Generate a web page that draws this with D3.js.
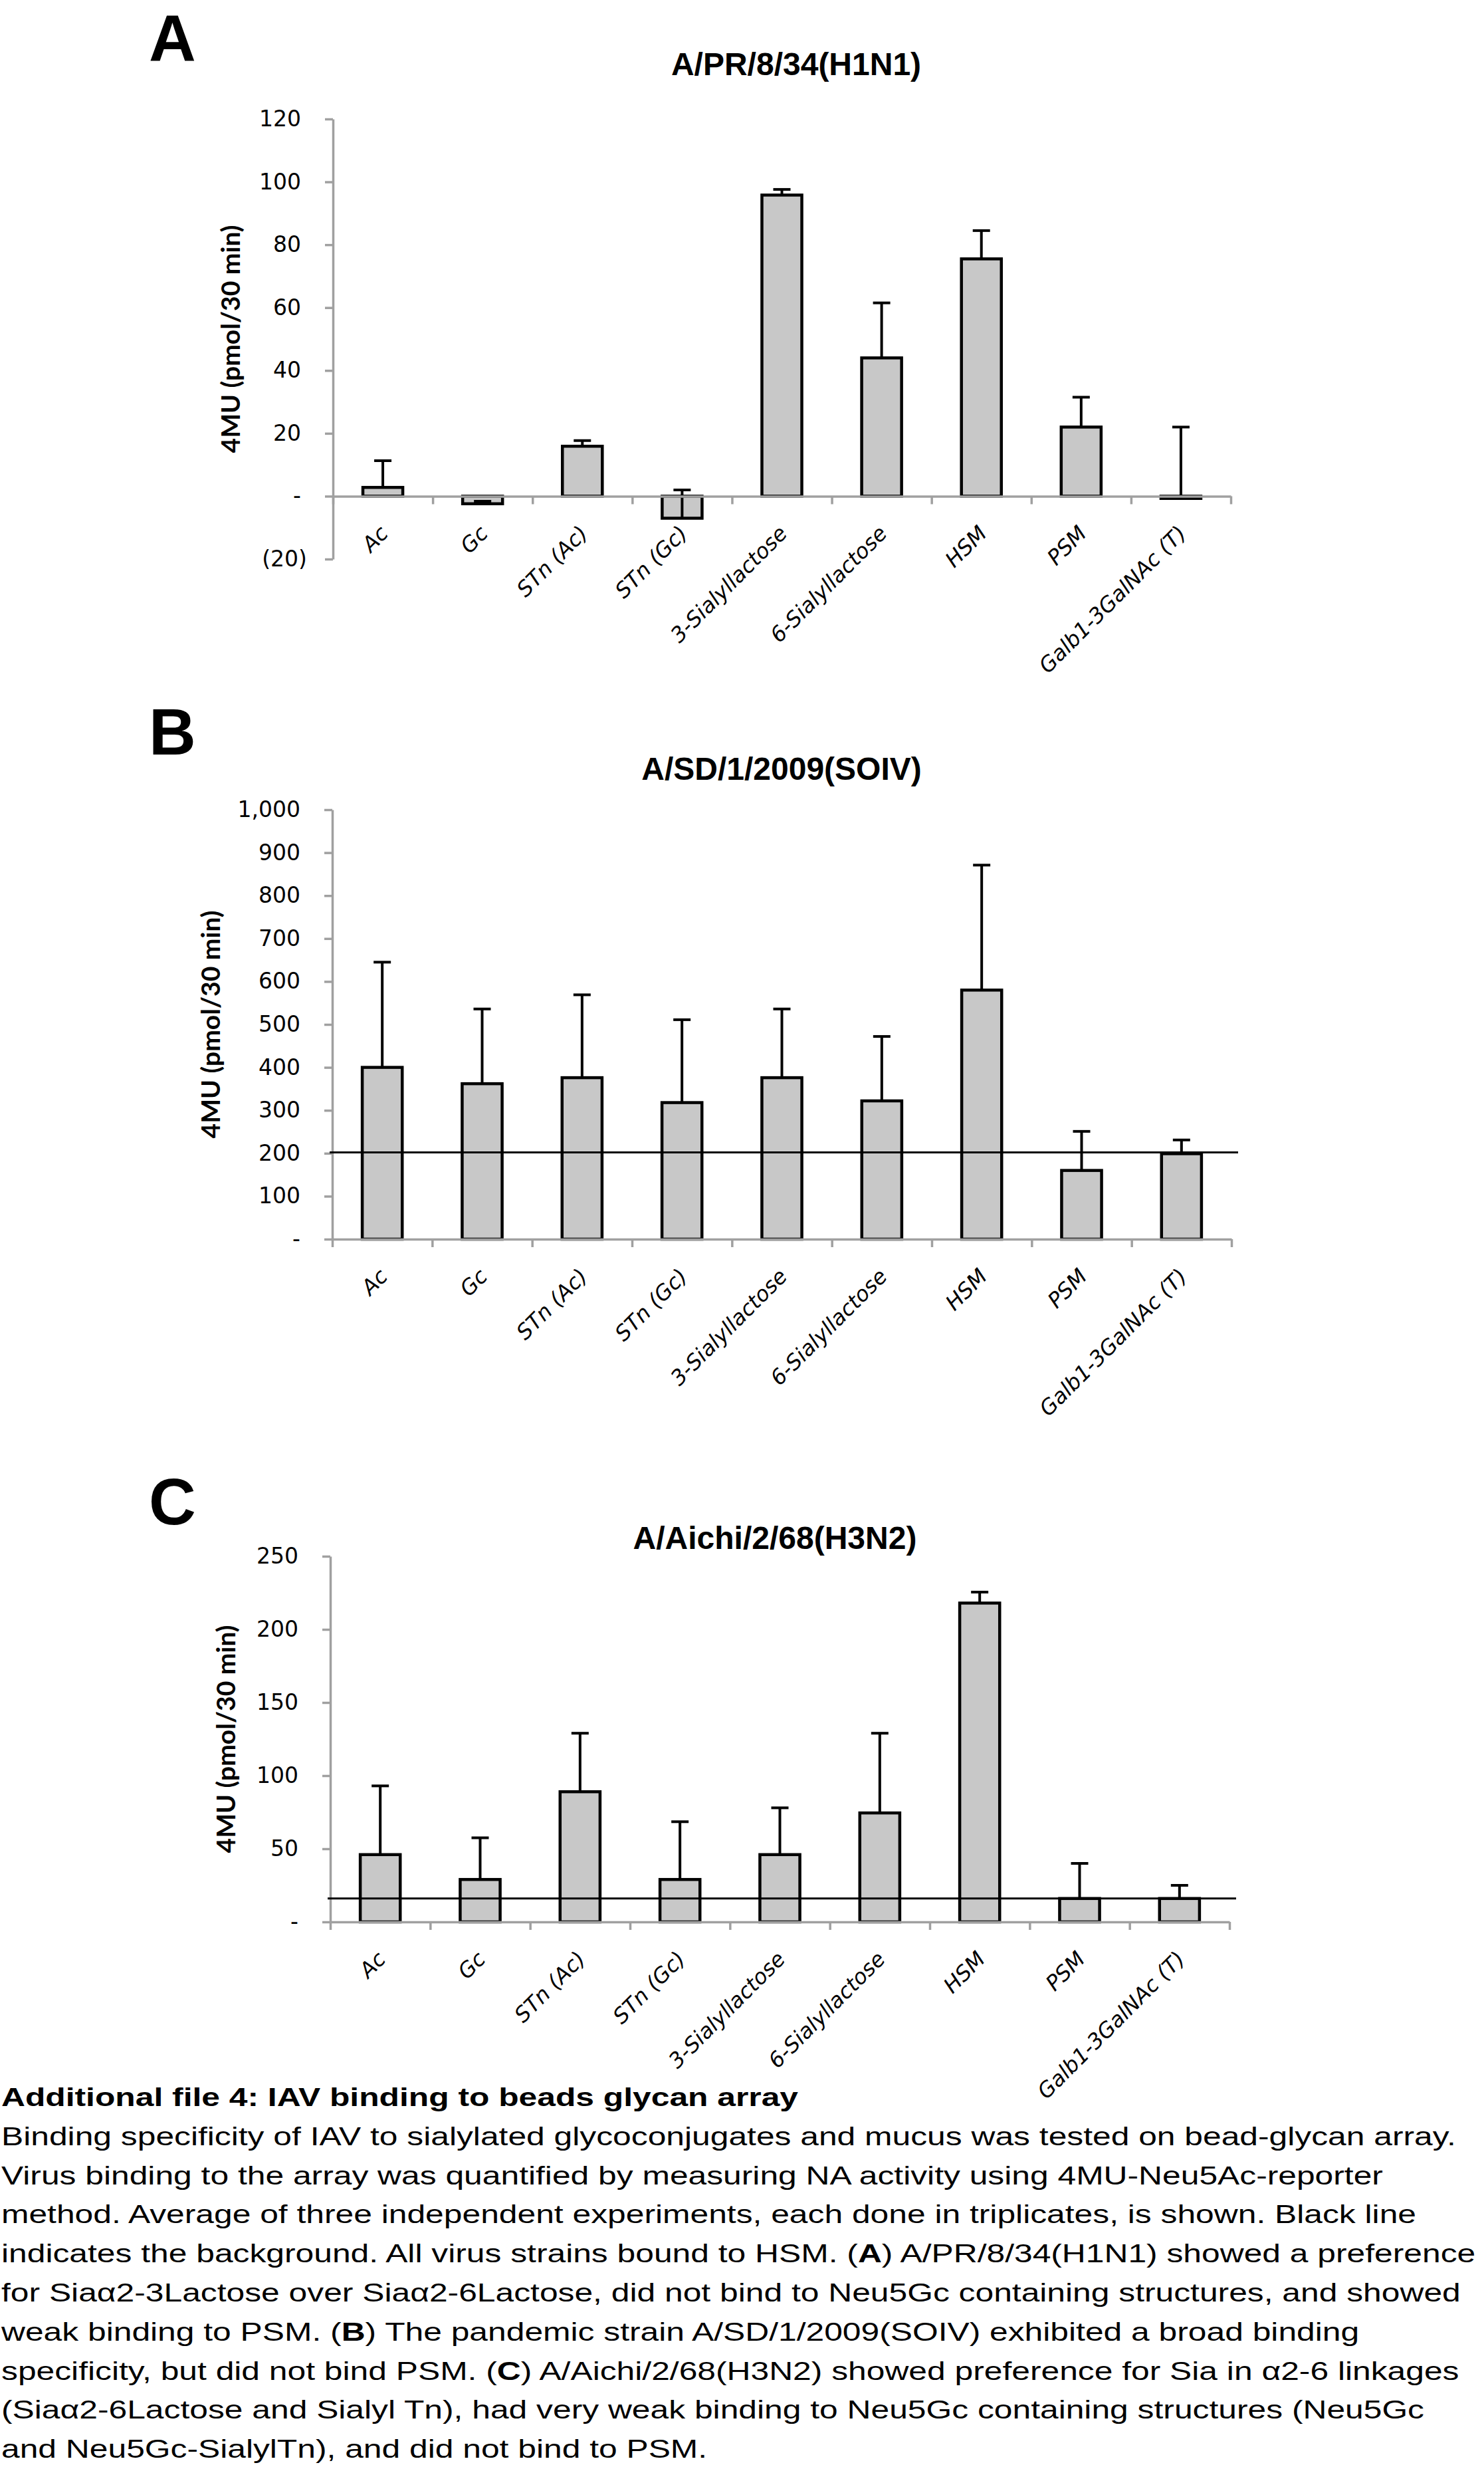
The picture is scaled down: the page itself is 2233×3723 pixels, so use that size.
<!DOCTYPE html>
<html>
<head>
<meta charset="utf-8">
<script src="https://cdn.jsdelivr.net/npm/d3@7/dist/d3.min.js"></script>
<style>
	body { margin: 0; background: #fff; }
	svg { display: block; }
</style>
</head>
<body>
<script>
//wrap everything in a self-executing function to keep it out of global scope
(function(){

	//glycans on the x axis, same order in all three panels
	var categories = ["Ac", "Gc", "STn (Ac)", "STn (Gc)", "3-Sialyllactose", "6-Sialyllactose", "HSM", "PSM", "Galb1-3GalNAc (T)"];

	//panel A - A/PR/8/34(H1N1)
	var valuesA = [2.8, -2.4, 15.9, -7, 95.8, 44, 75.5, 22, -0.7];
	var errorsA = [8.5, 0.8, 1.8, 9, 1.8, 17.5, 9, 9.5, 22.7];
	var ticksA = [-20, 0, 20, 40, 60, 80, 100, 120];

	//panel B - A/SD/1/2009(SOIV)
	var valuesB = [400, 362, 376, 318, 376, 322, 580, 160, 199];
	var errorsB = [245, 174, 193, 193, 160, 150, 291, 91, 32];
	var ticksB = [0, 100, 200, 300, 400, 500, 600, 700, 800, 900, 1000];
	var backgroundB = 202;

	//panel C - A/Aichi/2/68(H3N2)
	var valuesC = [46, 29, 89, 29, 46, 74.5, 218, 16, 16];
	var errorsC = [47, 28.5, 40, 39.5, 32, 54.5, 7.5, 24, 9];
	var ticksC = [0, 50, 100, 150, 200, 250];
	var backgroundC = 16;

	var yTitle = "4MU (pmol/30 min)";

	//legend text under the charts
	var captionLines = [
		"Additional file 4: IAV binding to beads glycan array",
		"Binding specificity of IAV to sialylated glycoconjugates and mucus was tested on bead-glycan array.",
		"Virus binding to the array was quantified by measuring NA activity using 4MU-Neu5Ac-reporter",
		"method. Average of three independent experiments, each done in triplicates, is shown. Black line",
		"indicates the background. All virus strains bound to HSM. (A) A/PR/8/34(H1N1) showed a preference",
		"for Siaα2-3Lactose over Siaα2-6Lactose, did not bind to Neu5Gc containing structures, and showed",
		"weak binding to PSM. (B) The pandemic strain A/SD/1/2009(SOIV) exhibited a broad binding",
		"specificity, but did not bind PSM. (C) A/Aichi/2/68(H3N2) showed preference for Sia in α2-6 linkages",
		"(Siaα2-6Lactose and Sialyl Tn), had very weak binding to Neu5Gc containing structures (Neu5Gc",
		"and Neu5Gc-SialylTn), and did not bind to PSM."
	];

	var width = 2233,
		height = 3723;

	var arial = "'Liberation Sans', Arial, sans-serif",
		tickFont = "'DejaVu Sans', Verdana, sans-serif",
		titleFont = "Lato, 'Open Sans', sans-serif";

	var svg = d3.select("body")
		.append("svg")
		.attr("width", width)
		.attr("height", height);

	svg.append("rect")
		.attr("width", width)
		.attr("height", height)
		.attr("fill", "#fff");

	//where each panel sits on the page
	var panels = [
		{letter: "A", title: "A/PR/8/34(H1N1)", values: valuesA, errors: errorsA, ticks: ticksA, background: null,
			letterY: 91, titleX: 1198, titleY: 113, x0: 501, x1: 1852, yTop: 179, yBottom: 841, labelX: 347},
		{letter: "B", title: "A/SD/1/2009(SOIV)", values: valuesB, errors: errorsB, ticks: ticksB, background: backgroundB,
			letterY: 1135, titleX: 1176, titleY: 1173, x0: 500, x1: 1853, yTop: 1218, yBottom: 1864, labelX: 317},
		{letter: "C", title: "A/Aichi/2/68(H3N2)", values: valuesC, errors: errorsC, ticks: ticksC, background: backgroundC,
			letterY: 2293, titleX: 1166, titleY: 2330, x0: 497, x1: 1850, yTop: 2341, yBottom: 2891, labelX: 340}
	];

	panels.forEach(drawPanel);
	drawCaption();

	//excel accounting style numbers: 0 is a dash, negatives in brackets
	function tickFormat(d){
		if (d === 0) return "-";
		if (d < 0) return "(" + d3.format(",")(-d) + ")";
		return d3.format(",")(d);
	};

	function drawPanel(p){

		var g = svg.append("g").attr("class", "panel");

		var y = d3.scaleLinear()
			.domain(d3.extent(p.ticks))
			.range([p.yBottom, p.yTop]);

		var x = d3.scaleBand()
			.domain(categories)
			.range([p.x0, p.x1])
			.paddingInner(0.6)
			.paddingOuter(0.3);

		//category boundaries for the x tick marks
		var edges = d3.scaleLinear()
			.domain([0, categories.length])
			.range([p.x0, p.x1]);

		var zeroY = y(0);

		//panel letter
		g.append("text")
			.attr("x", 224)
			.attr("y", p.letterY)
			.attr("font-family", arial)
			.attr("font-weight", "bold")
			.attr("font-size", 98)
			.text(p.letter);

		//chart title
		g.append("text")
			.attr("x", p.titleX)
			.attr("y", p.titleY)
			.attr("text-anchor", "middle")
			.attr("font-family", arial)
			.attr("font-weight", "bold")
			.attr("font-size", 48)
			.text(p.title);

		//y axis title
		g.append("text")
			.attr("transform", "translate(" + p.labelX + "," + ((p.yTop + p.yBottom) / 2) + ") rotate(-90)")
			.attr("text-anchor", "middle")
			.attr("dy", "0.35em")
			.attr("font-family", titleFont)
			.attr("font-weight", "bold")
			.attr("font-size", 39)
			.text(yTitle);

		//bars
		g.selectAll(".bar")
			.data(p.values)
			.enter()
			.append("rect")
			.attr("class", "bar")
			.attr("x", function(d, i){ return x(categories[i]); })
			.attr("y", function(d){ return y(Math.max(0, d)); })
			.attr("width", x.bandwidth())
			.attr("height", function(d){ return Math.abs(y(d) - zeroY); })
			.attr("fill", "#c8c8c8")
			.attr("stroke", "#000")
			.attr("stroke-width", 4.5);

		//error bars, plus direction only
		var err = g.selectAll(".err")
			.data(p.values)
			.enter()
			.append("g")
			.attr("class", "err")
			.attr("stroke", "#000")
			.attr("stroke-width", 4);

		err.append("line")
			.attr("x1", function(d, i){ return x(categories[i]) + x.bandwidth() / 2; })
			.attr("x2", function(d, i){ return x(categories[i]) + x.bandwidth() / 2; })
			.attr("y1", function(d){ return y(d); })
			.attr("y2", function(d, i){ return y(d + p.errors[i]); });

		err.append("line")
			.attr("x1", function(d, i){ return x(categories[i]) + x.bandwidth() / 2 - 13; })
			.attr("x2", function(d, i){ return x(categories[i]) + x.bandwidth() / 2 + 13; })
			.attr("y1", function(d, i){ return y(d + p.errors[i]); })
			.attr("y2", function(d, i){ return y(d + p.errors[i]); });

		//y axis
		var yAxis = d3.axisLeft(y)
			.tickValues(p.ticks)
			.tickSize(12)
			.tickSizeOuter(0)
			.tickPadding(36)
			.tickFormat(tickFormat);

		var ya = g.append("g")
			.attr("transform", "translate(" + p.x0 + ",0)")
			.call(yAxis);

		ya.select(".domain").attr("stroke", "#a0a0a0").attr("stroke-width", 3.5);
		ya.selectAll(".tick line").attr("stroke", "#a0a0a0").attr("stroke-width", 3.5);
		ya.selectAll(".tick text")
			.attr("font-family", tickFont)
			.attr("font-size", 33)
			.attr("fill", "#000")
			.attr("dx", function(d){ return d < 0 ? 9 : 0; });

		//x axis sits on zero
		var xAxis = d3.axisBottom(edges)
			.tickValues(d3.range(categories.length + 1))
			.tickSize(12)
			.tickSizeOuter(0)
			.tickFormat("");

		var xa = g.append("g")
			.attr("transform", "translate(0," + zeroY + ")")
			.call(xAxis);

		xa.select(".domain").attr("stroke", "#a0a0a0").attr("stroke-width", 3.5);
		xa.selectAll(".tick line").attr("stroke", "#a0a0a0").attr("stroke-width", 3.5);

		//category labels at 45 degrees, italic
		g.selectAll(".cat")
			.data(categories)
			.enter()
			.append("text")
			.attr("class", "cat")
			.attr("transform", function(d){
				return "translate(" + (x(d) + x.bandwidth() / 2 + 10) + "," + (zeroY + 58) + ") rotate(-45)";
			})
			.attr("text-anchor", "end")
			.attr("font-family", tickFont)
			.attr("font-style", "italic")
			.attr("font-size", 32)
			.text(function(d){ return d; });

		//background line
		if (p.background != null) {
			g.append("line")
				.attr("x1", p.x0 - 4)
				.attr("x2", p.x1 + 10)
				.attr("y1", y(p.background))
				.attr("y2", y(p.background))
				.attr("stroke", "#000")
				.attr("stroke-width", 3);
		};
	};

	//figure legend, text is a bit wider than plain arial so stretch the group
	function drawCaption(){

		var cap = svg.append("g")
			.attr("transform", "translate(2,0) scale(1.31,1)")
			.attr("font-family", arial)
			.attr("font-size", 38);

		captionLines.forEach(function(line, i){
			var t = cap.append("text")
				.attr("x", 0)
				.attr("y", 3168 + i * 58.8);

			if (i === 0) {
				t.attr("font-weight", "bold").text(line);
				return;
			};

			//panel letters in brackets are bold
			line.split(/\(([ABC])\)/).forEach(function(part, j){
				if (j % 2 === 1) {
					t.append("tspan").text("(");
					t.append("tspan").attr("font-weight", "bold").text(part);
					t.append("tspan").text(")");
				} else {
					t.append("tspan").text(part);
				};
			});
		});
	};

})();
</script>
</body>
</html>
